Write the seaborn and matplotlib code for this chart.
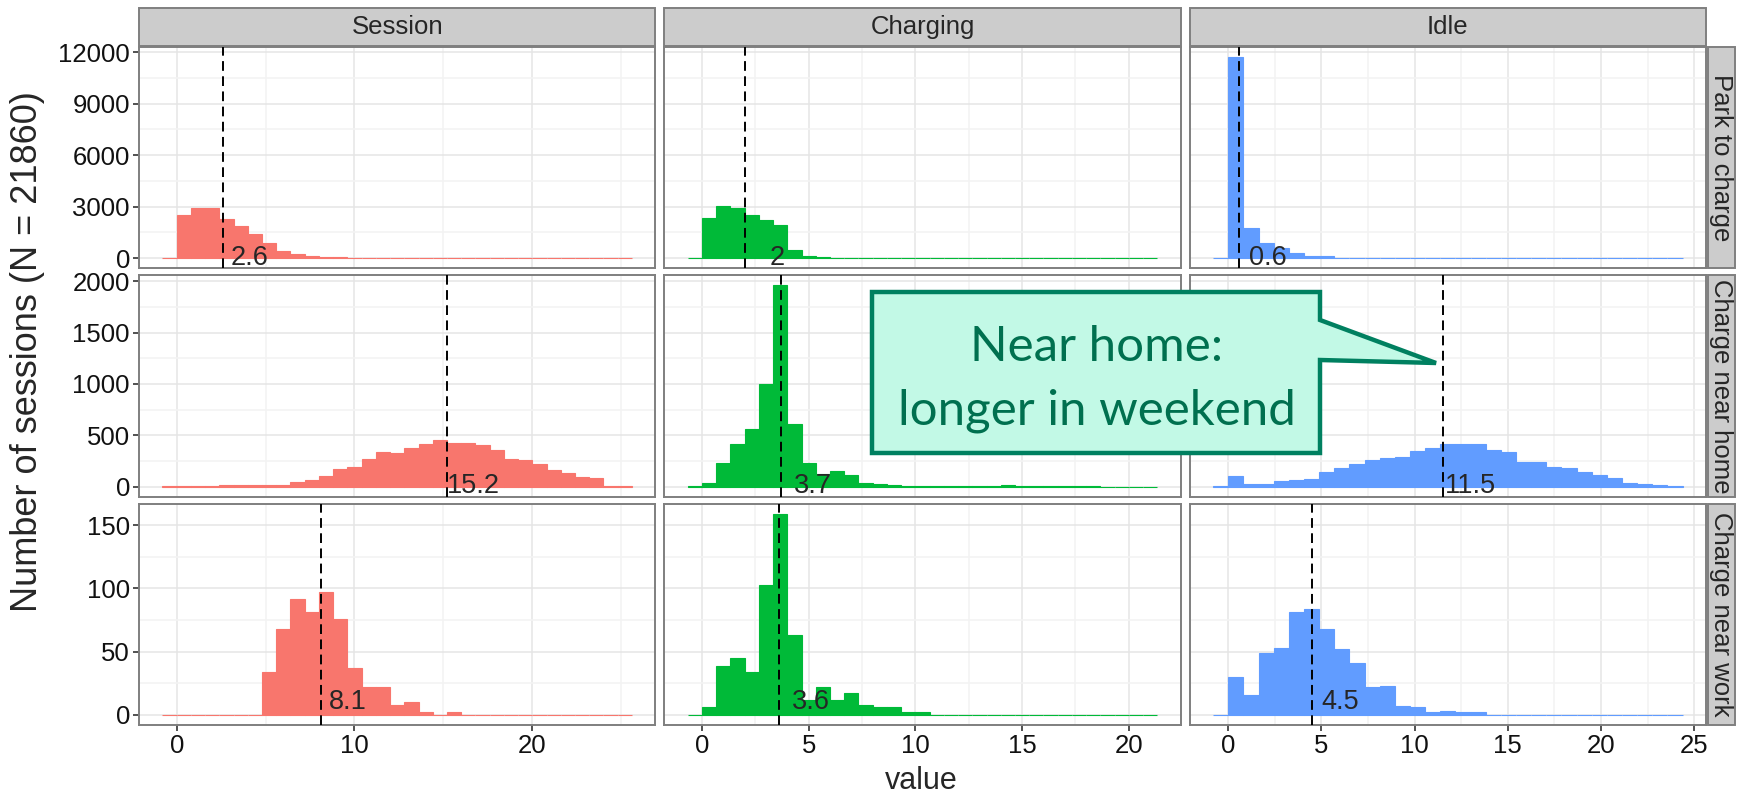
import numpy as np
import pandas as pd
import seaborn as sns
import matplotlib.pyplot as plt
from matplotlib.patches import Rectangle, Polygon
from matplotlib.ticker import MultipleLocator

# facets
durations = ['Session', 'Charging', 'Idle']
groups = ['Park to charge', 'Charge near home', 'Charge near work']
colors = ['#F8766D', '#00BA38', '#619CFF']

# histogram bins per column (hours): first left edge, bin width
bin_start = [-0.8, -2 / 3, -0.8125]
bin_width = [0.8, 2 / 3, 0.8125]

# counts per bin
session_park = [5, 2510, 2940, 2940, 2275, 1860, 1390, 860, 450, 275, 160, 100, 100,
                40, 25, 15, 10, 8, 6, 5, 4, 3, 3, 2, 2, 2, 1, 1, 1, 1, 1, 1, 1]
session_home = [3, 3, 3, 4, 12, 14, 16, 18, 20, 45, 68, 104, 172, 195, 270, 341, 328,
                377, 416, 455, 426, 426, 410, 360, 265, 255, 225, 165, 135, 95, 80, 4, 3]
session_work = [0, 0, 0, 0, 0, 0, 0, 34, 68, 92, 81, 97, 76, 37, 22, 22, 8, 10, 2, 0, 2,
                0, 0, 0, 0, 0, 0, 0, 0, 0, 0, 0, 0]

charging_park = [5, 2333, 3040, 2920, 2510, 2215, 1920, 510, 157, 98, 30, 15, 10, 6, 5,
                 4, 3, 3, 2, 2, 2, 1, 1, 1, 1, 1, 1, 1, 1, 1, 1, 1, 1]
charging_home = [2, 40, 227, 414, 566, 997, 1961, 612, 234, 125, 148, 109, 36, 26, 12,
                 10, 8, 6, 5, 4, 4, 6, 20, 5, 3, 3, 2, 2, 2, 1, 1, 1, 1]
charging_work = [0, 6, 39, 45, 34, 103, 159, 63, 12, 22, 12, 17, 8, 6, 6, 2, 2,
                 0, 0, 0, 0, 0, 0, 0, 0, 0, 0, 0, 0, 0, 0, 0, 0]

idle_park = [5, 11706, 1745, 900, 570, 315, 140, 140, 40, 25, 15, 10, 8, 5, 4, 3, 3,
             2, 2, 2, 1, 1, 1, 1, 1, 1, 1, 1, 1, 1, 1]
idle_home = [2, 102, 26, 26, 53, 62, 72, 141, 181, 220, 257, 280, 290, 349, 378, 418,
             411, 418, 355, 339, 240, 240, 191, 181, 141, 115, 82, 36, 23, 20, 3]
idle_work = [0, 30, 16, 49, 53, 81, 84, 68, 52, 41, 22, 23, 7, 6, 2, 3, 2, 2,
             0, 0, 0, 0, 0, 0, 0, 0, 0, 0, 0, 0, 0]

counts = [[session_park, charging_park, idle_park],
          [session_home, charging_home, idle_home],
          [session_work, charging_work, idle_work]]

means = [[2.6, 2.0, 0.6], [15.2, 3.7, 11.5], [8.1, 3.6, 4.5]]
mean_labels = [['2.6', '2', '0.6'], ['15.2', '3.7', '11.5'], ['8.1', '3.6', '4.5']]

x_major = [10, 5, 5]
y_major = [3000, 500, 50]

sns.set_theme(style='white')
plt.rcParams['font.family'] = ['Liberation Sans', 'DejaVu Sans']

W, H = 1748, 798
fig, axes = plt.subplots(3, 3, sharex='col', sharey='row', figsize=(W / 100, H / 100), dpi=100)
fig.subplots_adjust(left=139 / W, right=1706 / W, top=1 - 47 / H, bottom=1 - 725 / H,
                    wspace=9 / 516.3, hspace=7 / 221.3)

border = '#7F7F7F'
for i in range(3):
    row_max = max(max(c) for c in counts[i])
    for j in range(3):
        ax = axes[i, j]
        c = counts[i][j]
        lo = bin_start[j]
        hi = bin_start[j] + bin_width[j] * len(c)
        centers = lo + bin_width[j] * (np.arange(len(c)) + 0.5)
        df = pd.DataFrame({'value': centers, 'n': c})
        sns.histplot(data=df, x='value', weights='n', bins=len(c), binrange=(lo, hi),
                     color=colors[j], alpha=1, edgecolor=colors[j], linewidth=0.8, ax=ax)
        ax.set_xlabel('')
        ax.set_ylabel('')

        pad = 0.05 * (hi - lo)
        ax.set_xlim(lo - pad, hi + pad)
        ax.set_ylim(-0.05 * row_max, 1.05 * row_max)
        ax.xaxis.set_major_locator(MultipleLocator(x_major[j]))
        ax.xaxis.set_minor_locator(MultipleLocator(x_major[j] / 2))
        ax.yaxis.set_major_locator(MultipleLocator(y_major[i]))
        ax.yaxis.set_minor_locator(MultipleLocator(y_major[i] / 2))

        ax.set_axisbelow(True)
        ax.grid(which='major', color='#E5E5E5', lw=1.1)
        ax.grid(which='minor', color='#F3F3F3', lw=1.1)
        for s in ax.spines.values():
            s.set_color(border)
            s.set_linewidth(1.4)

        ax.tick_params(which='minor', length=0)
        ax.tick_params(which='major', length=4.5, width=1.2, color='#333333',
                       labelsize=18.5, labelcolor='#111111', pad=2,
                       left=(j == 0), bottom=(i == 2))

        ax.axvline(means[i][j], color='black', lw=1.4, ls=(0, (5, 2.8)), zorder=3)
        ax.text(means[i][j] + 1.5, 10, mean_labels[i][j], ha='center', va='center',
                fontsize=19.5, clip_on=True, zorder=4)

        if i == 0:
            hf = 38 / 221.3
            ax.add_patch(Rectangle((0, 1.003), 1, hf, transform=ax.transAxes, clip_on=False,
                                   facecolor='#CCCCCC', edgecolor=border, lw=1.4))
            ax.text(0.5, 1.003 + hf / 2, durations[j], transform=ax.transAxes,
                    ha='center', va='center', fontsize=18.5)
        if j == 2:
            wf = 27 / 516.3
            ax.add_patch(Rectangle((1.003, 0), wf, 1, transform=ax.transAxes, clip_on=False,
                                   facecolor='#CCCCCC', edgecolor=border, lw=1.4))
            ax.text(1.003 + wf / 2, 0.5, groups[i], transform=ax.transAxes, rotation=270,
                    ha='center', va='center', fontsize=18.5)

fig.text(921 / W, 1 - 781 / H, 'value', ha='center', va='center', fontsize=22)
fig.text(28 / W, 1 - 352 / H, 'Number of sessions (N = 21860)', ha='center', va='center',
         rotation=90, fontsize=26)


# callout
def fpt(x, y):
    return (x / W, 1 - y / H)


callout = [(872, 292), (1320, 292), (1320, 320), (1436, 363), (1320, 360), (1320, 453), (872, 453)]
fig.add_artist(Polygon([fpt(*p) for p in callout], closed=True, transform=fig.transFigure,
                       facecolor='#C2F9E6', edgecolor='#008060', lw=3.2, joinstyle='miter', zorder=10))
fig.text(*fpt(1097, 379), 'Near home:\nlonger in weekend', ha='center', va='center',
         fontsize=35.5, color='#00704F', family=['Lato', 'DejaVu Sans'], linespacing=1.55, zorder=11)

fig.savefig('out.png', dpi=100)
